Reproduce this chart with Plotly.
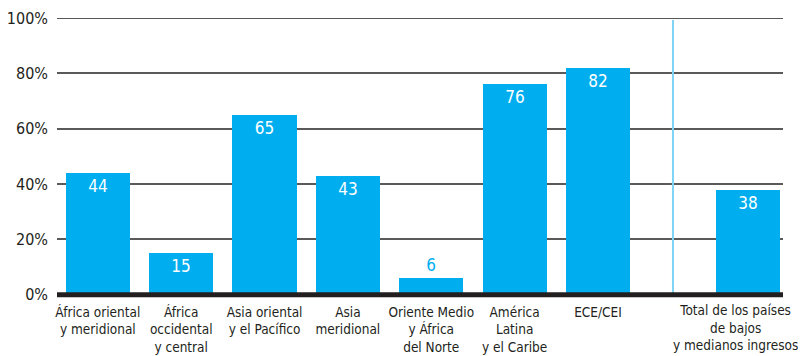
import plotly.graph_objects as go

# Share of population (%) by region
regions = [
    "África oriental<br>y meridional",
    "África<br>occidental<br>y central",
    "Asia oriental<br>y el Pacífico",
    "Asia<br>meridional",
    "Oriente Medio<br>y África<br>del Norte",
    "América<br>Latina<br>y el Caribe",
    "ECE/CEI",
    "Total de los países<br>de bajos<br>y medianos ingresos",
]
values = [44, 15, 65, 43, 6, 76, 82, 38]
y_ticks = [0, 20, 40, 60, 80, 100]
y_tick_labels = ["0%", "20%", "40%", "60%", "80%", "100%"]

FONT = "Liberation Sans Narrow, DejaVu Sans Condensed, Arial Narrow, sans-serif"
BLUE = "#00aeef"
INK = "#231f20"
CAT_SIZE = 13.5

# Regional bars evenly spaced; the total sits apart after a divider
x_pos = list(range(len(values) - 1)) + [7.8]
divider_x = 6.9

text_pos = ["inside" if v >= 10 else "outside" for v in values]
text_col = ["white" if v >= 10 else BLUE for v in values]

fig = go.Figure(
    go.Bar(
        x=x_pos,
        y=values,
        width=0.77,
        marker=dict(color=BLUE, line=dict(width=0)),
        text=[str(v) for v in values],
        textposition=text_pos,
        insidetextanchor="end",
        textangle=0,
        constraintext="none",
        textfont=dict(family=FONT, size=17, color=text_col),
        outsidetextfont=dict(family=FONT, size=17, color=BLUE),
        insidetextfont=dict(family=FONT, size=17, color="white"),
        cliponaxis=False,
        hoverinfo="skip",
    )
)

# Divider between regions and the overall total
fig.add_shape(
    type="line", xref="x", yref="y",
    x0=divider_x, x1=divider_x, y0=0, y1=99.3,
    line=dict(color="#7fd3f5", width=2), layer="above",
)
# Heavy baseline
fig.add_shape(
    type="line", xref="paper", yref="y",
    x0=0, x1=1.0, y0=0, y1=0,
    line=dict(color=INK, width=5), layer="above",
)
# Darker top rule at the axis maximum
fig.add_shape(
    type="line", xref="paper", yref="y",
    x0=0, x1=1.0, y0=y_ticks[-1], y1=y_ticks[-1],
    line=dict(color=INK, width=1.5), layer="below",
)

# The total's label is wide, so it is kept inside the right page edge
fig.add_annotation(
    text=regions[-1],
    xref="paper", yref="paper",
    x=1.0, y=0, xanchor="right", yanchor="top",
    xshift=17, yshift=-1,
    align="center", showarrow=False,
    font=dict(family=FONT, size=CAT_SIZE, color=INK),
)

fig.update_layout(
    width=801,
    height=356,
    margin=dict(l=57, r=18, t=18, b=57, autoexpand=False),
    paper_bgcolor="white",
    plot_bgcolor="white",
    showlegend=False,
    bargap=0,
    xaxis=dict(
        range=[-0.49, 8.22],
        tickmode="array",
        tickvals=x_pos[:-1],
        ticktext=regions[:-1],
        tickangle=0,
        automargin=False,
        ticklabeloverflow="allow",
        tickfont=dict(family=FONT, size=CAT_SIZE, color=INK),
        showgrid=False,
        zeroline=False,
        showline=False,
        ticks="",
        ticklabelstandoff=3,
        fixedrange=True,
    ),
    yaxis=dict(
        range=[-1.5, 100],
        tickmode="array",
        tickvals=y_ticks,
        ticktext=y_tick_labels,
        automargin=False,
        tickfont=dict(family=FONT, size=16, color=INK),
        showgrid=True,
        gridcolor="#5a5a5a",
        gridwidth=1.5,
        zeroline=False,
        showline=False,
        ticks="",
        ticklabelstandoff=8,
        fixedrange=True,
    ),
)

fig.write_html("out.html")
